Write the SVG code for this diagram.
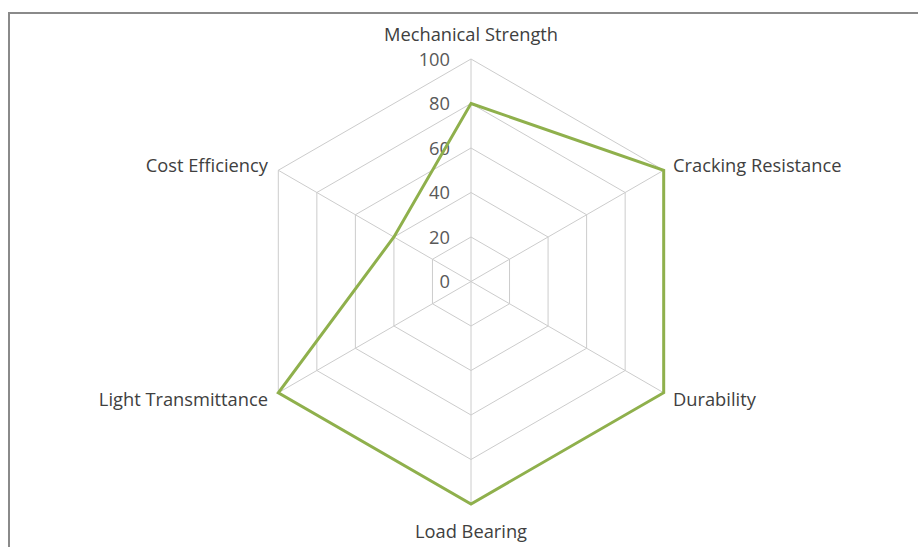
<svg xmlns="http://www.w3.org/2000/svg" width="918" height="547" viewBox="0 0 918 547">
  <style>
    .grid { fill: none; stroke: #cccccc; stroke-width: 1; }
    .series { fill: none; stroke: #8fb04c; stroke-width: 3; stroke-linejoin: miter; }
    .lbl { font-family: "Open Sans", "Liberation Sans", sans-serif; font-size: 18.3px; fill: #404040; }
    .tick { font-family: "Open Sans", "Liberation Sans", sans-serif; font-size: 18.3px; fill: #595959; text-anchor: end; }
    .frame { fill: none; stroke: #8a8a8a; stroke-width: 2; }
  </style>
  <rect x="0" y="0" width="918" height="547" fill="#ffffff"/>
  <path class="frame" d="M9,547 V13 H918"/>
  <g id="gridlines">
    <polygon class="grid" points="471,237 509.54,259.25 509.54,303.75 471,326 432.46,303.75 432.46,259.25"/>
    <polygon class="grid" points="471,192.5 548.07,237 548.07,326 471,370.5 393.93,326 393.93,237"/>
    <polygon class="grid" points="471,148 586.61,214.75 586.61,348.25 471,415 355.39,348.25 355.39,214.75"/>
    <polygon class="grid" points="471,103.5 625.15,192.5 625.15,370.5 471,459.5 316.85,370.5 316.85,192.5"/>
    <polygon class="grid" points="471,59 663.69,170.25 663.69,392.75 471,504 278.31,392.75 278.31,170.25"/>
    <line class="grid" x1="471" y1="281.5" x2="471" y2="59"/>
    <line class="grid" x1="471" y1="281.5" x2="663.69" y2="170.25"/>
    <line class="grid" x1="471" y1="281.5" x2="663.69" y2="392.75"/>
    <line class="grid" x1="471" y1="281.5" x2="471" y2="504"/>
    <line class="grid" x1="471" y1="281.5" x2="278.31" y2="392.75"/>
    <line class="grid" x1="471" y1="281.5" x2="278.31" y2="170.25"/>
  </g>
  <g id="ticks">
    <text class="tick" x="450" y="66">100</text>
    <text class="tick" x="450" y="110">80</text>
    <text class="tick" x="450" y="155">60</text>
    <text class="tick" x="450" y="199">40</text>
    <text class="tick" x="450" y="244">20</text>
    <text class="tick" x="450" y="288">0</text>
  </g>
  <g id="series">
    <polygon class="series" points="471,103.5 663.69,170.25 663.69,392.75 471,504 278.31,392.75 393.93,237"/>
  </g>
  <g id="axis-labels">
    <text id="mechanical-strength" class="lbl" x="471" y="41" text-anchor="middle">Mechanical Strength</text>
    <text id="cracking-resistance" class="lbl" x="673" y="172">Cracking Resistance</text>
    <text id="durability" class="lbl" x="673" y="406">Durability</text>
    <text id="load-bearing" class="lbl" x="471" y="538" text-anchor="middle">Load Bearing</text>
    <text id="light-transmittance" class="lbl" x="268" y="406" text-anchor="end">Light Transmittance</text>
    <text id="cost-efficiency" class="lbl" x="268" y="172" text-anchor="end">Cost Efficiency</text>
  </g>
</svg>
